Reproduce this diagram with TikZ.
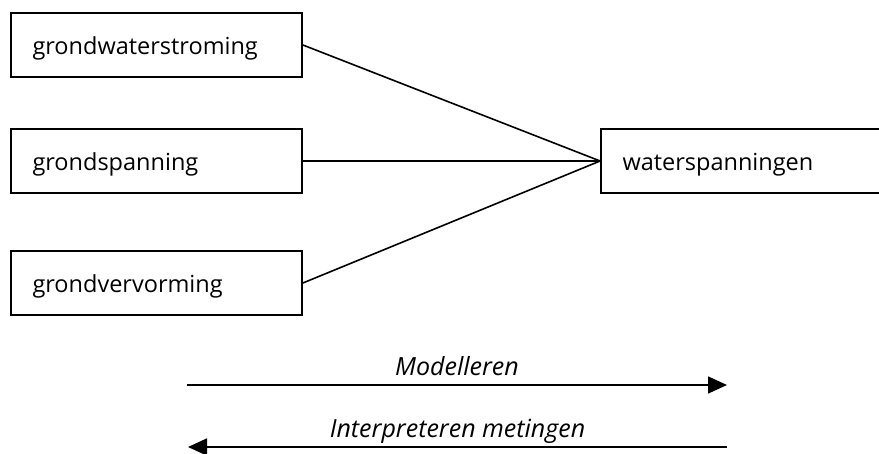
\documentclass[tikz,border=0pt]{standalone}
\usepackage{fontspec}
\setmainfont{Open Sans}
\usetikzlibrary{arrows.meta}
\tikzset{
  x=1pt, y=-1pt,
  box/.style={draw, line width=1.8pt, minimum height=64pt, minimum width=291pt,
    text width=248pt, align=left, inner xsep=21pt, inner ysep=0pt,
    text height=20pt, text depth=0pt, font=\fontsize{23.5pt}{26pt}\selectfont},
  link/.style={line width=1.6pt},
  flow/.style={line width=1.6pt, -{Triangle[length=19pt,width=17pt]}},
  flowlabel/.style={font=\fontsize{25pt}{28pt}\selectfont\itshape,
    text depth=0pt, inner xsep=2pt, inner ysep=9pt}
}
\begin{document}
\begin{tikzpicture}
\useasboundingbox (0,0) rectangle (879,454);
% sources on the left
\node[box] (flow)   at (156.5,45)  {grondwaterstroming};
\node[box] (stress) at (156.5,161) {grondspanning};
\node[box] (deform) at (156.5,283) {grondvervorming};
% result on the right, running past the edge
\node[box] (pore) at (746.5,161) {waterspanningen};
% connectors meeting at the result box
\draw[link] (flow.east)   -- (pore.west);
\draw[link] (stress.east) -- (pore.west);
\draw[link] (deform.east) -- (pore.west);
% direction arrows
\coordinate (mA) at (187,385);
\coordinate (mB) at (727,385);
\coordinate (iA) at (727,447);
\coordinate (iB) at (188,447);
\draw[flow] (mA) -- node[midway, above, flowlabel] {Modelleren} (mB);
\draw[flow] (iA) -- node[midway, above, flowlabel] {Interpreteren metingen} (iB);
\end{tikzpicture}
\end{document}
